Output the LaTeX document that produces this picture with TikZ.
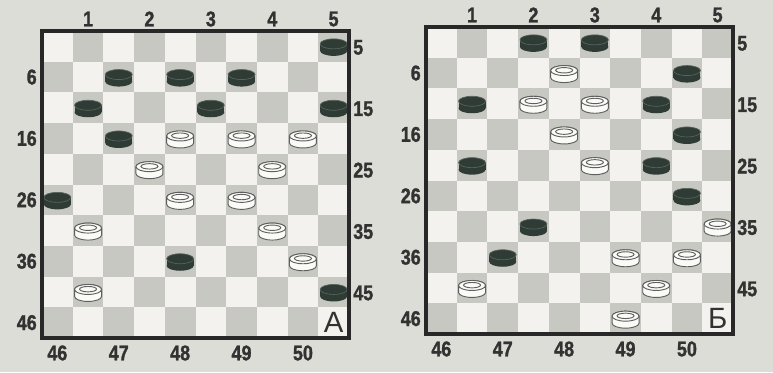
\documentclass[tikz,border=0pt]{standalone}
\usepackage{fontspec}
\setsansfont{Liberation Sans}
\newfontfamily\numfont{Liberation Sans}[FakeStretch=0.84,BoldFeatures={FakeBold=1.3}]
\definecolor{cPaper}    {RGB}{221,221,216}
\definecolor{cLight}    {RGB}{243,242,238}
\definecolor{cDark}     {RGB}{200,200,195}
\definecolor{cFrame}    {RGB}{40,40,40}
\definecolor{cInk}      {RGB}{50,50,50}
\definecolor{cBlack}    {RGB}{47,60,53}
\definecolor{cBlackRim} {RGB}{88,99,93}
\definecolor{cWhite}    {RGB}{250,250,247}
\definecolor{cWhiteRim} {RGB}{95,95,95}
\tikzset{
  lightsq/.style={fill=cLight},
  darksq/.style={fill=cDark},
  frame/.style={draw=cFrame,line width=2.3pt},
  num/.style={font=\numfont\bfseries\fontsize{16}{17}\selectfont,text=cInk,inner sep=0pt},
  tag/.style={font=\sffamily\fontsize{22}{23}\selectfont,text=cInk,inner sep=0pt},
  bpc/.style={fill=cBlack},                                % black man body
  bring/.style={draw=cBlackRim,line width=0.5pt},          % black man top rim
  wpc/.style={fill=cWhite,draw=cWhiteRim,line width=0.7pt},% white man
}

\begin{document}
\begin{tikzpicture}[x=0.75pt,y=-0.75pt]
  % paper
  \fill[cPaper] (0,0) rectangle (773,372);
  \useasboundingbox (0,0) rectangle (773,372);
  \def\sq{30.7}

  % men: #1 = column, #2 = row (0 = top left)
  \newcommand{\bman}[2]{\begin{scope}[shift={({(#1+.5)*\sq},{(#2+.5)*\sq+1})}]
     \fill[bpc] (0,3.5) ellipse[x radius=13.5,y radius=5];
     \fill[bpc] (-13.5,-3.5) rectangle (13.5,3.5);
     \fill[bpc] (0,-3.5) ellipse[x radius=13.5,y radius=5];
     \draw[bring] (0,-3.5) ellipse[x radius=13.5,y radius=5];
  \end{scope}}
  \newcommand{\wman}[2]{\begin{scope}[shift={({(#1+.5)*\sq},{(#2+.5)*\sq+1})}]
     \filldraw[wpc] (-13.5,-3.5) -- (-13.5,3.5)
        arc[start angle=180,end angle=0,x radius=13.5,y radius=5] -- (13.5,-3.5)
        arc[start angle=0,end angle=-180,x radius=13.5,y radius=5] -- cycle;
     \filldraw[wpc] (0,-3.5) ellipse[x radius=13.5,y radius=5];
     \draw[wpc] (0,-3.8) ellipse[x radius=8.5,y radius=2.7];
  \end{scope}}

  % board: origin x, origin y, letter, name, black men, white men
  \newcommand{\board}[6]{\begin{scope}[shift={(#1,#2)}]
     \fill[lightsq] (0,0) rectangle ({10*\sq},{10*\sq});
     \foreach \rw in {0,...,9}{\foreach \k in {0,...,4}{
        \pgfmathtruncatemacro{\cl}{2*\k+1-mod(\rw,2)}
        \fill[darksq] ({\cl*\sq},{\rw*\sq}) rectangle +(\sq,\sq);}}
     \foreach \cl/\rw in {#5}{\bman{\cl}{\rw}}
     \foreach \cl/\rw in {#6}{\wman{\cl}{\rw}}
     \draw[frame] (0,0) rectangle ({10*\sq},{10*\sq});
     % square numbers round the edge
     \foreach \k in {1,...,5}{
        \node[num] (#4t\k) at ({(2*\k-.5)*\sq},-12) {\k};}
     \foreach \k in {0,...,4}{
        \pgfmathtruncatemacro{\nl}{10*\k+6}
        \pgfmathtruncatemacro{\nr}{10*\k+5}
        \pgfmathtruncatemacro{\nb}{46+\k}
        \node[num,anchor=east] (#4l\k) at (-5,{(2*\k+1.5)*\sq}) {\nl};
        \node[num,anchor=west] (#4r\k) at ({10*\sq+4},{(2*\k+.5)*\sq+1}) {\nr};
        \node[num] (#4b\k) at ({(2*\k+.5)*\sq},{10*\sq+15}) {\nb};}
     \node[tag] (#4tag) at ({9.5*\sq},{9.48*\sq}) {#3};
  \end{scope}}

  \board{42}{31}{А}{A}
    {9/0,2/1,4/1,6/1,1/2,5/2,9/2,2/3,0/5,4/7,9/8}
    {4/3,6/3,8/3,3/4,7/4,4/5,6/5,1/6,7/6,8/7,1/8}
  \board{426}{27}{Б}{B}
    {3/0,5/0,8/1,1/2,7/2,8/3,1/4,7/4,8/5,3/6,2/7}
    {4/1,3/2,5/2,4/3,5/4,9/6,6/7,8/7,1/8,7/8,6/9}
\end{tikzpicture}
\end{document}
